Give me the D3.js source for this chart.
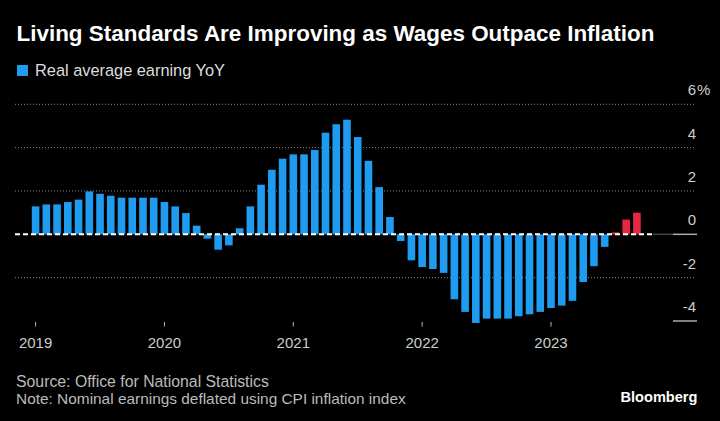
<!DOCTYPE html>
<html><head><meta charset="utf-8">
<script src="https://cdn.jsdelivr.net/npm/d3@7"></script>
<style>
html,body{margin:0;padding:0;background:#000;}
svg{display:block;font-family:"Liberation Sans",Arial,sans-serif;}
</style></head>
<body>
<svg id="chart" width="720" height="421"></svg>
<script>
// ---- data (monthly, Jan 2019 .. Sep 2023) ----
const startYear = 2019;
const values = [
  1.29, 1.38, 1.38, 1.49, 1.60, 1.98, 1.87, 1.78, 1.69, 1.69, 1.69, 1.69,   // 2019
  1.49, 1.29, 0.98, 0.40, -0.20, -0.71, -0.51, 0.28, 1.29, 2.29, 2.98, 3.49, // 2020
  3.69, 3.69, 3.89, 4.69, 5.08, 5.29, 4.49, 3.39, 2.18, 0.80, -0.31, -1.20,  // 2021
  -1.51, -1.60, -1.78, -3.00, -3.58, -4.09, -3.89, -3.89, -3.89, -3.78, -3.69, -3.58, // 2022
  -3.40, -3.29, -3.07, -2.20, -1.47, -0.58, 0.09, 0.68, 1.00                 // 2023
];
const highlightFrom = 54;               // Jul 2023 onwards: wages outpacing inflation
const yearLabels = ["2019", "2020", "2021", "2022", "2023"];
const yTicks = [6, 4, 2, 0, -2, -4];
const title = "Living Standards Are Improving as Wages Outpace Inflation";
const legendLabel = "Real average earning YoY";
const sourceText = "Source: Office for National Statistics";
const noteText = "Note: Nominal earnings deflated using CPI inflation index";

// ---- styling ----
const BLUE = "#1f9cf0", RED = "#e62843";
const svg = d3.select("#chart");
svg.append("rect").attr("width", 720).attr("height", 421).attr("fill", "#000");

const x = d3.scaleLinear().domain([0, 48]).range([35.6, 551]);
const y = d3.scaleLinear().domain([-4, 6]).range([321, 104.3]);
const gridLeft = 15, gridRight = 696;
const bw = 7.6;

function fit(sel, w) {
  const fs = parseFloat(sel.attr("font-size"));
  const len = sel.node().getComputedTextLength();
  sel.attr("font-size", (fs * w / len).toFixed(2));
}

// title & legend
fit(svg.append("text").attr("x", 16.5).attr("y", 41).attr("font-size", 19)
  .attr("font-weight", "bold").attr("fill", "#fff").text(title), 638);
svg.append("rect").attr("x", 17).attr("y", 65).attr("width", 11).attr("height", 11).attr("fill", BLUE);
fit(svg.append("text").attr("x", 35).attr("y", 76).attr("font-size", 15)
  .attr("fill", "#ddd").text(legendLabel), 190);

// gridlines
const g = svg.append("g");
yTicks.filter(t => t !== 0 && t !== -4).forEach(t => {
  g.append("line").attr("x1", gridLeft).attr("x2", gridRight)
    .attr("y1", y(t)).attr("y2", y(t))
    .attr("stroke", "#8a8a8a").attr("stroke-width", 1).attr("stroke-dasharray", "1,2");
});
// right-side solid tick segments at 0 and -4
[0, -4].forEach(t => {
  g.append("line").attr("x1", 673).attr("x2", 697).attr("y1", y(t)).attr("y2", y(t))
    .attr("stroke", "#aaa").attr("stroke-width", 1.5);
});
g.append("line").attr("x1", x(57.5)).attr("x2", 673).attr("y1", y(0)).attr("y2", y(0))
  .attr("stroke", "#444").attr("stroke-width", 1.5);

// y labels
yTicks.forEach(t => {
  const tx = svg.append("text").attr("x", 696).attr("y", y(t) - 9)
    .attr("text-anchor", "end").attr("font-size", 15).attr("fill", "#ccc").text(t);
  if (t === 6) {
    svg.append("text").attr("x", 697).attr("y", y(t) - 9).attr("font-size", 15)
      .attr("fill", "#ccc").text("%");
  }
});

// bars
svg.append("g").selectAll("rect").data(values).join("rect")
  .attr("x", (d, i) => x(i) - bw / 2)
  .attr("width", bw)
  .attr("y", d => y(Math.max(0, d)))
  .attr("height", d => Math.abs(y(d) - y(0)))
  .attr("fill", (d, i) => i >= highlightFrom ? RED : BLUE);

// zero line (dashed white)
svg.append("line").attr("x1", gridLeft).attr("x2", x(57.5)).attr("y1", y(0)).attr("y2", y(0))
  .attr("stroke", "#fff").attr("stroke-width", 2).attr("stroke-dasharray", "5,3");

// x axis
const xa = svg.append("g");
yearLabels.forEach((lab, k) => {
  const px = x(k * 12);
  xa.append("line").attr("x1", px).attr("x2", px).attr("y1", 322).attr("y2", 326.5)
    .attr("stroke", "#bbb").attr("stroke-width", 1);
  xa.append("text").attr("x", px).attr("y", 348).attr("text-anchor", "middle")
    .attr("font-size", 15).attr("fill", "#ccc").text(lab);
});

// footer
fit(svg.append("text").attr("x", 16).attr("y", 387).attr("font-size", 14)
  .attr("fill", "#bbb").text(sourceText), 253);
fit(svg.append("text").attr("x", 16).attr("y", 404).attr("font-size", 14)
  .attr("fill", "#bbb").text(noteText), 390);
fit(svg.append("text").attr("x", 620.5).attr("y", 401.5).attr("font-size", 16)
  .attr("font-weight", "bold").attr("fill", "#fff").text("Bloomberg"), 77);
</script>
</body></html>
